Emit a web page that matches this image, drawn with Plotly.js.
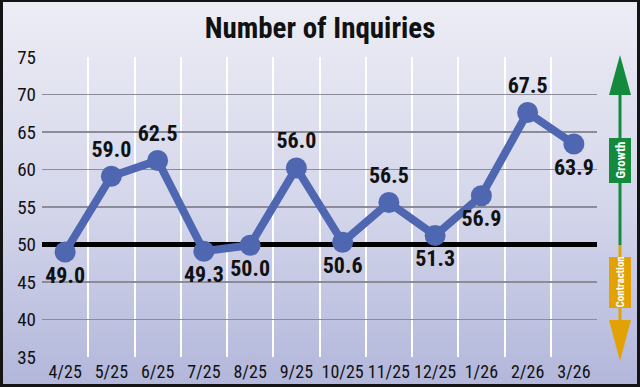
<!DOCTYPE html>
<html>
<head>
<meta charset="utf-8">
<script src="https://cdn.plot.ly/plotly-3.0.1.min.js"></script>
<style>
  html, body { margin: 0; padding: 0; }
  #wrap { position: relative; width: 640px; height: 387px;
          background: linear-gradient(to bottom, #ededf5 0%, #d3d5ea 55%, #b2b6da 100%); }
  #chart { position: absolute; left: 0; top: 0; width: 640px; height: 387px; }
  #frame { position: absolute; left: 0; top: 0; width: 640px; height: 387px; box-sizing: border-box;
           border: 3px solid #141414; border-top-width: 2px; pointer-events: none; }
</style>
</head>
<body>
<div id="wrap"><div id="chart"></div><div id="frame"></div></div>
<script>
// Data
const months = ['4/25','5/25','6/25','7/25','8/25','9/25','10/25','11/25','12/25','1/26','2/26','3/26'];
const plotted = [49.0, 59.1, 61.2, 49.1, 49.9, 60.2, 50.3, 55.6, 51.2, 56.5, 67.6, 63.4];
const labels = ['49.0','59.0','62.5','49.3','50.0','56.0','50.6','56.5','51.3','56.9','67.5','63.9'];
const yTicks = [35, 40, 45, 50, 55, 60, 65, 70, 75];
const threshold = 50;

const FONT = '"Roboto Condensed", "Open Sans", sans-serif';
const BLUE = '#4f66b0';
const GREEN = '#138a3c';
const ORANGE = '#e2a206';

const idx = months.map((_, i) => i);
const bounds = months.map((_, i) => i - 0.5).concat([months.length - 0.5]);
const xRange = [-0.5, months.length - 0.5];

const labelPos = ['bottom center','top center','top center','bottom center','bottom center','top center',
                  'bottom center','top center','bottom center','bottom center','top center','bottom center'];

const thresholdTrace = {
  x: xRange, y: [threshold, threshold], type: 'scatter', mode: 'lines',
  line: { color: '#000', width: 5 }, hoverinfo: 'skip', cliponaxis: false
};

const trace = {
  x: idx, y: plotted, text: labels,
  type: 'scatter', mode: 'lines+markers+text',
  line: { color: BLUE, width: 8 },
  marker: { color: BLUE, size: 21 },
  textposition: labelPos,
  textfont: { family: FONT, size: 22, color: '#111', weight: 'bold' },
  cliponaxis: false, hoverinfo: 'skip'
};

// paper-coordinate helpers for right-hand indicator
const L = 42, R = 43, T = 57, B = 30, W = 640, H = 387;
const px = v => (v - L) / (W - L - R);
const py = v => (H - B - v) / (H - T - B);
const ax = px(620), hw = 11 / (W - L - R);
const bx0 = px(609), bx1 = px(631);

const layout = {
  width: 640, height: 387,
  margin: { l: L, r: R, t: T, b: B },
  paper_bgcolor: 'rgba(0,0,0,0)', plot_bgcolor: 'rgba(0,0,0,0)',
  showlegend: false,
  title: { text: 'Number of Inquiries', x: 0.5, xanchor: 'center', y: 1 - 28 / H, yanchor: 'middle',
           font: { family: FONT, size: 29, color: '#111', weight: 'bold' } },
  xaxis: { type: 'linear', range: xRange, tickvals: idx, ticktext: months, tickangle: 0, showgrid: false,
           minor: { tickvals: bounds, showgrid: true, gridcolor: '#ffffff', gridwidth: 2, ticks: '' },
           ticks: '', showline: false, zeroline: false, fixedrange: true,
           tickfont: { family: FONT, size: 18, color: '#111' }, ticklabelstandoff: 2 },
  yaxis: { range: [35, 75], tickvals: yTicks, showgrid: true, gridcolor: '#8c8c98', gridwidth: 1.5,
           zeroline: false, showline: false, ticks: '', fixedrange: true,
           tickfont: { family: FONT, size: 19, color: '#111' }, ticklabelstandoff: 5 },
  shapes: [
    { type: 'line', xref: 'paper', yref: 'paper', x0: ax, x1: ax, y0: py(245), y1: py(92),
      line: { color: GREEN, width: 3 } },
    { type: 'path', xref: 'paper', yref: 'paper',
      path: `M ${ax - hw} ${py(95)} L ${ax + hw} ${py(95)} L ${ax} ${py(55)} Z`,
      fillcolor: GREEN, line: { width: 0 } },
    { type: 'line', xref: 'paper', yref: 'paper', x0: ax, x1: ax, y0: py(245), y1: py(322),
      line: { color: ORANGE, width: 3 } },
    { type: 'path', xref: 'paper', yref: 'paper',
      path: `M ${ax - hw} ${py(320)} L ${ax + hw} ${py(320)} L ${ax} ${py(361)} Z`,
      fillcolor: ORANGE, line: { width: 0 } },
    { type: 'rect', xref: 'paper', yref: 'paper', x0: bx0, x1: bx1, y0: py(183), y1: py(138),
      fillcolor: GREEN, line: { width: 0 } },
    { type: 'rect', xref: 'paper', yref: 'paper', x0: bx0, x1: bx1, y0: py(308), y1: py(257),
      fillcolor: ORANGE, line: { width: 0 } }
  ],
  annotations: [
    { text: '<b>Growth</b>', xref: 'paper', yref: 'paper', x: ax, y: py(160.5), showarrow: false,
      xanchor: 'center', yanchor: 'middle',
      textangle: -90, font: { family: FONT, size: 13, color: '#fff' } },
    { text: '<b>Contraction</b>', xref: 'paper', yref: 'paper', x: ax, y: py(282.5), showarrow: false,
      xanchor: 'center', yanchor: 'middle',
      textangle: -90, font: { family: FONT, size: 11, color: '#fff' } }
  ]
};

Plotly.newPlot('chart', [thresholdTrace, trace], layout, { displayModeBar: false, staticPlot: true });
</script>
</body>
</html>
